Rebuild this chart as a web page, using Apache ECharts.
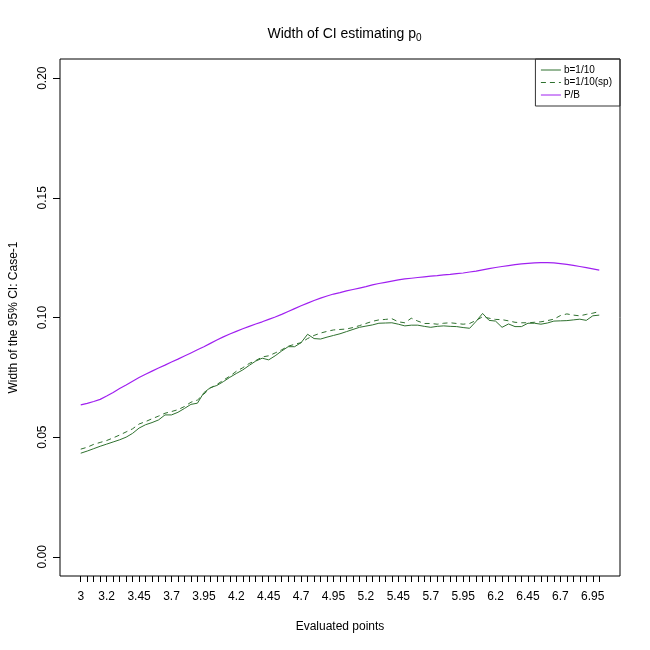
<!DOCTYPE html>
<html>
<head>
<meta charset="utf-8">
<script src="https://cdn.jsdelivr.net/npm/echarts@6/dist/echarts.min.js"></script>
<style>
  html, body { margin: 0; padding: 0; background: #fff; }
  #chart { width: 650px; height: 650px; }
</style>
</head>
<body>
<div id="chart"></div>
<script>
// evaluated points (x)
const xPoints = [
  3, 3.05, 3.1, 3.15, 3.2, 3.25, 3.3, 3.35, 3.4, 3.45,
  3.5, 3.55, 3.6, 3.65, 3.7, 3.75, 3.8, 3.85, 3.9, 3.95,
  4, 4.05, 4.1, 4.15, 4.2, 4.25, 4.3, 4.35, 4.4, 4.45,
  4.5, 4.55, 4.6, 4.65, 4.7, 4.75, 4.8, 4.85, 4.9, 4.95,
  5, 5.05, 5.1, 5.15, 5.2, 5.25, 5.3, 5.35, 5.4, 5.45,
  5.5, 5.55, 5.6, 5.65, 5.7, 5.75, 5.8, 5.85, 5.9, 5.95,
  6, 6.05, 6.1, 6.15, 6.2, 6.25, 6.3, 6.35, 6.4, 6.45,
  6.5, 6.55, 6.6, 6.65, 6.7, 6.75, 6.8, 6.85, 6.9, 6.95,
  7
];

// labelled ticks on the x axis
const xTickLabels = [3, 3.2, 3.45, 3.7, 3.95, 4.2, 4.45, 4.7, 4.95, 5.2, 5.45, 5.7, 5.95, 6.2, 6.45, 6.7, 6.95];
const yTicks = [0, 0.05, 0.1, 0.15, 0.2];

// b=1/10
const widthB10 = [
  0.0433, 0.0442, 0.0452, 0.0462, 0.0471, 0.0480, 0.0489, 0.0500, 0.0516, 0.0538,
  0.0552, 0.0561, 0.0572, 0.0593, 0.0593, 0.0604, 0.0620, 0.0637, 0.0642, 0.0686,
  0.0707, 0.0716, 0.0732, 0.0750, 0.0766, 0.0781, 0.0800, 0.0818, 0.0830, 0.0823,
  0.0840, 0.0860, 0.0878, 0.0878, 0.0895, 0.0930, 0.0912, 0.0910, 0.0918, 0.0925,
  0.0932, 0.0941, 0.0950, 0.0959, 0.0964, 0.0969, 0.0976, 0.0977, 0.0978, 0.0972,
  0.0965, 0.0968, 0.0968, 0.0963, 0.0959, 0.0963, 0.0965, 0.0963, 0.0962, 0.0958,
  0.0955, 0.0984, 0.1017, 0.0988, 0.0985, 0.0959, 0.0973, 0.0962, 0.0962, 0.0976,
  0.0976, 0.0972, 0.0977, 0.0985, 0.0986, 0.0987, 0.0990, 0.0993, 0.0988, 0.1007,
  0.1010
];

// b=1/10(sp)
const widthB10sp = [
  0.0450, 0.0458, 0.0470, 0.0478, 0.0486, 0.0497, 0.0509, 0.0522, 0.0535, 0.0555,
  0.0565, 0.0577, 0.0588, 0.0600, 0.0607, 0.0615, 0.0628, 0.0646, 0.0655, 0.0680,
  0.0705, 0.0720, 0.0738, 0.0755, 0.0775, 0.0790, 0.0808, 0.0820, 0.0835, 0.0840,
  0.0852, 0.0865, 0.0880, 0.0888, 0.0895, 0.0912, 0.0925, 0.0935, 0.0942, 0.0948,
  0.0950, 0.0952, 0.0958, 0.0966, 0.0975, 0.0984, 0.0990, 0.0992, 0.0995, 0.0982,
  0.0978, 0.0997, 0.0985, 0.0975, 0.0975, 0.0972, 0.0976, 0.0978, 0.0975, 0.0972,
  0.0975, 0.0988, 0.1003, 0.0997, 0.0992, 0.0991, 0.0986, 0.0980, 0.0978, 0.0978,
  0.0980, 0.0982, 0.0987, 0.0993, 0.1008, 0.1015, 0.1010, 0.1007, 0.1013, 0.1018,
  0.1025
];

// P/B
const widthPB = [
  0.0635, 0.0641, 0.0649, 0.0658, 0.0672, 0.0687, 0.0703, 0.0718, 0.0734, 0.0749,
  0.0763, 0.0776, 0.0789, 0.0801, 0.0814, 0.0826, 0.0839, 0.0852, 0.0865, 0.0878,
  0.0892, 0.0906, 0.0919, 0.0931, 0.0942, 0.0953, 0.0963, 0.0973, 0.0982, 0.0992,
  0.1002, 0.1013, 0.1025, 0.1037, 0.1049, 0.1060, 0.1071, 0.1081, 0.1090, 0.1098,
  0.1104, 0.1111, 0.1117, 0.1123, 0.1129, 0.1136, 0.1142, 0.1147, 0.1152, 0.1157,
  0.1161, 0.1164, 0.1167, 0.1170, 0.1173, 0.1175, 0.1178, 0.1180, 0.1183, 0.1186,
  0.1190, 0.1194, 0.1199, 0.1204, 0.1209, 0.1213, 0.1217, 0.1221, 0.1224, 0.1226,
  0.1228, 0.1229, 0.1229, 0.1228, 0.1225, 0.1222, 0.1218, 0.1213, 0.1208, 0.1203,
  0.1198
];

const FONT = "'Liberation Sans', Arial, sans-serif";
const GREEN = '#2f712f';
const PURPLE = '#a020f0';

const pairs = ys => xPoints.map((x, i) => [x, ys[i]]);

const chart = echarts.init(document.getElementById('chart'), null, { renderer: 'canvas' });

chart.setOption({
  backgroundColor: '#fff',
  animation: false,
  title: {
    text: '{t|Width of CI estimating p}{s|0}',
    left: 339.5,
    textAlign: 'center',
    top: 20,
    textStyle: {
      rich: {
        t: { fontFamily: FONT, fontSize: 14, fontWeight: 'normal', color: '#000' },
        s: { fontFamily: FONT, fontSize: 10, fontWeight: 'normal', color: '#000', verticalAlign: 'bottom', padding: [8, 0, 0, 0] }
      }
    }
  },
  legend: {
    orient: 'vertical',
    right: 30,
    top: 59,
    padding: [6, 8, 6, 5],
    itemGap: 2.5,
    itemWidth: 20,
    itemHeight: 10,
    borderColor: '#333',
    borderWidth: 1,
    borderRadius: 0,
    itemStyle: { opacity: 0 },
    lineStyle: { width: 1 },
    textStyle: { fontFamily: FONT, fontSize: 10, color: '#000', padding: [0, 0, 0, -2] },
    data: ['b=1/10', 'b=1/10(sp)', 'P/B']
  },
  grid: {
    left: 59,
    right: 30,
    top: 59,
    bottom: 74,
    show: true,
    borderColor: '#000',
    borderWidth: 1,
    containLabel: false
  },
  xAxis: {
    type: 'value',
    min: 2.84,
    max: 7.16,
    name: 'Evaluated points',
    nameLocation: 'middle',
    nameGap: 45,
    nameTextStyle: { fontFamily: FONT, fontSize: 12, color: '#000' },
    axisLine: { show: false, onZero: false },
    splitLine: { show: false },
    axisTick: {
      show: true,
      length: 6,
      customValues: xPoints,
      lineStyle: { color: '#000', width: 1 }
    },
    axisLabel: {
      customValues: xTickLabels,
      margin: 15,
      fontFamily: FONT,
      fontSize: 12,
      color: '#000',
      formatter: v => String(v)
    }
  },
  yAxis: {
    type: 'value',
    min: -0.008,
    max: 0.208,
    name: 'Width of the 95% CI: Case-1',
    nameLocation: 'middle',
    nameGap: 40,
    nameTextStyle: { fontFamily: FONT, fontSize: 12, color: '#000' },
    axisLine: { show: false, onZero: false },
    splitLine: { show: false },
    axisTick: {
      show: true,
      length: 7,
      customValues: yTicks,
      lineStyle: { color: '#000', width: 1 }
    },
    axisLabel: {
      customValues: yTicks,
      rotate: 90,
      margin: 11,
      fontFamily: FONT,
      fontSize: 12,
      color: '#000',
      formatter: v => v.toFixed(2)
    }
  },
  series: [
    {
      name: 'b=1/10',
      type: 'line',
      data: pairs(widthB10),
      symbol: 'none',
      lineStyle: { color: GREEN, width: 1 },
      itemStyle: { color: GREEN }
    },
    {
      name: 'b=1/10(sp)',
      type: 'line',
      data: pairs(widthB10sp),
      symbol: 'none',
      lineStyle: { color: GREEN, width: 1, type: [5, 4] },
      itemStyle: { color: GREEN }
    },
    {
      name: 'P/B',
      type: 'line',
      data: pairs(widthPB),
      symbol: 'none',
      lineStyle: { color: PURPLE, width: 1.2 },
      itemStyle: { color: PURPLE }
    }
  ]
});
</script>
</body>
</html>
